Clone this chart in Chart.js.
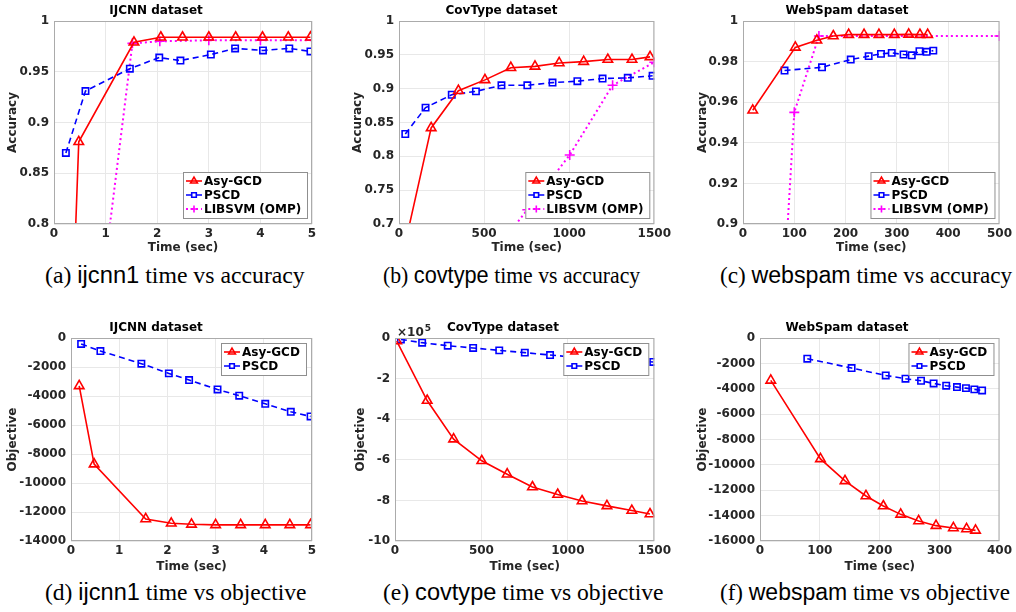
<!DOCTYPE html>
<html>
<head>
<meta charset="utf-8">
<script src="https://cdn.jsdelivr.net/npm/chart.js@4.4.1/dist/chart.umd.min.js"></script>
<style>
html, body { margin: 0; padding: 0; background: #fff; overflow: hidden; width: 1016px; height: 612px; }
canvas { position: absolute; }
.cap { position: absolute; white-space: nowrap; font-family: "Liberation Serif", "DejaVu Serif", serif; font-size: 23px; line-height: 24px; color: #000; transform-origin: 0 0; }
.cap .sf { font-family: "Liberation Sans", Arial, sans-serif; }
</style>
</head>
<body>
<canvas id="c1" width="326" height="257" style="left:0px;top:0px"></canvas>
<canvas id="c2" width="327" height="257" style="left:347px;top:0px"></canvas>
<canvas id="c3" width="323" height="257" style="left:692px;top:0px"></canvas>
<canvas id="c4" width="326" height="259" style="left:0px;top:317px"></canvas>
<canvas id="c5" width="324" height="259" style="left:350px;top:317px"></canvas>
<canvas id="c6" width="323" height="259" style="left:692px;top:317px"></canvas>

<div class="cap" data-l="45" data-r="305" style="top:263px">(a) <span class="sf">ijcnn1</span> time vs accuracy</div>
<div class="cap" data-l="383" data-r="640" style="top:263px">(b) <span class="sf">covtype</span> time vs accuracy</div>
<div class="cap" data-l="720" data-r="1012" style="top:263px">(c) <span class="sf">webspam</span> time vs accuracy</div>
<div class="cap" data-l="45" data-r="307" style="top:580px">(d) <span class="sf">ijcnn1</span> time vs objective</div>
<div class="cap" data-l="383" data-r="663" style="top:580px">(e) <span class="sf">covtype</span> time vs objective</div>
<div class="cap" data-l="720" data-r="1010" style="top:580px">(f) <span class="sf">webspam</span> time vs objective</div>

<script>
// [time, value] pairs

// IJCNN, accuracy
const ijcnnAccAsy = [[0.15, 0.42], [0.48, 0.881], [1.55, 0.979], [2.07, 0.984], [2.49, 0.984], [3.0, 0.984], [3.52, 0.984], [4.04, 0.984], [4.54, 0.984], [4.97, 0.984]];
const ijcnnAccPscd = [[0.23, 0.870], [0.61, 0.931], [1.47, 0.953], [2.04, 0.964], [2.45, 0.961], [3.04, 0.967], [3.51, 0.973], [4.05, 0.971], [4.56, 0.973], [4.97, 0.970]];
const ijcnnAccLib = [[0.5, 0.56], [1.52, 0.978], [2.05, 0.980], [3.0, 0.981], [4.0, 0.981], [5.0, 0.981]];

// CovType, accuracy
const covAccAsy = [[40, 0.675], [189, 0.842], [349, 0.897], [505, 0.913], [657, 0.931], [799, 0.933], [941, 0.938], [1085, 0.940], [1227, 0.943], [1369, 0.943], [1475, 0.947]];
const covAccPscd = [[37, 0.833], [156, 0.872], [310, 0.891], [452, 0.896], [602, 0.905], [754, 0.905], [902, 0.909], [1048, 0.911], [1196, 0.915], [1344, 0.916], [1490, 0.919]];
const covAccLib = [[500, 0.64], [754, 0.721], [1003, 0.802], [1255, 0.905], [1500, 0.939]];

// WebSpam, accuracy
const webAccAsy = [[19, 0.956], [102, 0.987], [144, 0.9905], [176, 0.9926], [206, 0.9933], [236, 0.9933], [265, 0.9933], [295, 0.9933], [323, 0.9934], [345, 0.9933], [360, 0.9933]];
const webAccPscd = [[81, 0.9756], [154, 0.9772], [210, 0.981], [245, 0.9827], [269, 0.9838], [290, 0.9843], [313, 0.9835], [329, 0.9831], [344, 0.9851], [358, 0.9848], [371, 0.9854]];
const webAccLib = [[80, 0.87], [100, 0.955], [148, 0.9926], [500, 0.9926]];

// IJCNN, objective
const ijcnnObjAsy = [[0.17, -3300], [0.48, -8700], [1.55, -12480], [2.08, -12780], [2.5, -12850], [3.0, -12890], [3.52, -12890], [4.03, -12890], [4.54, -12890], [4.97, -12890]];
const ijcnnObjPscd = [[0.21, -410], [0.61, -900], [1.46, -1770], [2.03, -2440], [2.45, -2900], [3.04, -3550], [3.49, -3980], [4.03, -4540], [4.56, -5090], [4.97, -5410]];

// CovType, objective (x10^5)
const covObjAsy = [[10, -0.15], [186, -3.08], [339, -4.98], [502, -6.05], [649, -6.71], [795, -7.34], [941, -7.71], [1082, -8.03], [1226, -8.27], [1370, -8.50], [1475, -8.67]];
const covObjPscd = [[34, -0.07], [157, -0.23], [305, -0.38], [452, -0.49], [603, -0.61], [751, -0.72], [897, -0.84], [1045, -0.95], [1195, -1.03], [1345, -1.10], [1494, -1.18]];

// WebSpam, objective
const webObjAsy = [[18, -3340], [101, -9530], [142, -11260], [177, -12450], [206, -13240], [235, -13900], [265, -14420], [294, -14790], [323, -14970], [345, -15050], [360, -15160]];
const webObjPscd = [[79, -1630], [153, -2370], [210, -2950], [243, -3210], [269, -3370], [290, -3580], [311, -3760], [329, -3870], [344, -3950], [358, -4050], [371, -4130]];

const seriesStyle = {
    asy: { label: 'Asy-GCD', color: '#ff0000', dash: [], width: 1.6, point: 'triangle', radius: 5.5 },
    pscd: { label: 'PSCD', color: '#0000ff', dash: [6, 4], width: 1.6, point: 'rect', radius: 4.5 },
    lib: { label: 'LIBSVM (OMP)', color: '#ff00ff', dash: [2, 3], width: 2, point: 'cross', radius: 5 }
};

const panels = [
    { id: 'c1', yW: 54, yPad: 6, xH: 33, padR: 14, title: 'IJCNN dataset', yTitle: 'Accuracy', x: [0, 5, 1], y: [0.8, 1, 0.05], legend: 'bottom',
      series: [['asy', ijcnnAccAsy], ['pscd', ijcnnAccPscd], ['lib', ijcnnAccLib]] },
    { id: 'c2', yW: 52, yPad: 4, xH: 33, padR: 18, title: 'CovType dataset', yTitle: 'Accuracy', x: [0, 1500, 500], y: [0.7, 1, 0.05], legend: 'bottom',
      series: [['asy', covAccAsy], ['pscd', covAccPscd], ['lib', covAccLib]] },
    { id: 'c3', yW: 51, yPad: 4, xH: 33, padR: 13, title: 'WebSpam dataset', yTitle: 'Accuracy', x: [0, 500, 100], y: [0.9, 1, 0.02], legend: 'bottom',
      series: [['asy', webAccAsy], ['pscd', webAccPscd], ['lib', webAccLib]] },
    { id: 'c4', yW: 71, yPad: 6, xH: 35, padR: 14, title: 'IJCNN dataset', yTitle: 'Objective', x: [0, 5, 1], y: [-14000, 0, 2000], legend: 'top',
      series: [['asy', ijcnnObjAsy], ['pscd', ijcnnObjPscd]] },
    { id: 'c5', yW: 45, yPad: 4, xH: 35, padR: 18, title: 'CovType dataset', yTitle: 'Objective', x: [0, 1500, 500], y: [-10, 0, 2], legend: 'top', exponent: '5',
      series: [['asy', covObjAsy], ['pscd', covObjPscd]] },
    { id: 'c6', yW: 68, yPad: 4, xH: 35, padR: 13, title: 'WebSpam dataset', yTitle: 'Objective', x: [0, 400, 100], y: [-16000, 0, 2000], legend: 'top',
      series: [['asy', webObjAsy], ['pscd', webObjPscd]] }
];

const FONT = 'DejaVu Sans';
const TXT = '#262626';

// same marker shapes as chart.js, for the legend samples
function drawMarker(ctx, kind, x, y, r) {
    ctx.beginPath();
    if (kind === 'triangle') {
        ctx.moveTo(x, y - r);
        ctx.lineTo(x + 0.866 * r, y + 0.5 * r);
        ctx.lineTo(x - 0.866 * r, y + 0.5 * r);
        ctx.closePath();
    } else if (kind === 'rect') {
        const s = Math.SQRT1_2 * r;
        ctx.rect(x - s, y - s, 2 * s, 2 * s);
    } else {
        ctx.moveTo(x - r, y); ctx.lineTo(x + r, y);
        ctx.moveTo(x, y - r); ctx.lineTo(x, y + r);
    }
    ctx.stroke();
}

const framePlugin = {
    id: 'frame',
    afterDatasetsDraw: function (chart, args, opts) {
        const a = chart.chartArea;
        const ctx = chart.ctx;
        ctx.save();
        ctx.strokeStyle = '#ababab';
        ctx.lineWidth = 1;
        ctx.setLineDash([]);
        ctx.strokeRect(a.left + 0.5, a.top + 0.5, a.right - a.left - 1, a.bottom - a.top - 1);

        // legend box
        ctx.font = 'bold 12px "' + FONT + '"';
        const items = chart.data.datasets;
        let tw = 0;
        items.forEach(function (d) { tw = Math.max(tw, ctx.measureText(d.label).width); });
        const bw = Math.round(21 + tw + 6);
        const bh = 4 + items.length * 14;
        let bx, by;
        if (opts.where === 'bottom') {
            bx = a.right - 5 - bw; by = a.bottom - 6 - bh;
        } else {
            bx = a.right - 6 - bw; by = a.top + 5;
        }
        ctx.fillStyle = '#fff';
        ctx.fillRect(bx, by, bw, bh);
        ctx.strokeStyle = '#8f8f8f';
        ctx.strokeRect(bx + 0.5, by + 0.5, bw, bh);
        items.forEach(function (d, i) {
            const cy = by + 9 + i * 14;
            ctx.strokeStyle = d.borderColor;
            ctx.lineWidth = d.borderWidth;
            ctx.setLineDash(d.borderDash);
            ctx.beginPath();
            ctx.moveTo(bx + 3, cy); ctx.lineTo(bx + 19, cy);
            ctx.stroke();
            ctx.setLineDash([]);
            ctx.lineWidth = d.pointBorderWidth;
            drawMarker(ctx, d.pointStyle, bx + 11, cy, d.pointRadius * 0.72);
            ctx.fillStyle = '#000';
            ctx.textBaseline = 'middle';
            ctx.textAlign = 'left';
            ctx.fillText(d.label, bx + 21, cy + 1);
        });

        if (opts.exponent) {
            ctx.fillStyle = TXT;
            ctx.textBaseline = 'alphabetic';
            ctx.font = 'bold 12px "' + FONT + '"';
            ctx.fillText('\u00d710', a.left + 2, a.top - 2);
            const w = ctx.measureText('\u00d710').width;
            ctx.font = 'bold 9px "' + FONT + '"';
            ctx.fillText(opts.exponent, a.left + 3 + w, a.top - 7);
        }
        ctx.restore();
    }
};

const fmt = function (v) { return String(parseFloat(Number(v).toFixed(4))); };

panels.forEach(function (p) {
    const datasets = p.series.map(function (s) {
        const st = seriesStyle[s[0]];
        return {
            label: st.label,
            data: s[1].map(function (q) { return { x: q[0], y: q[1] }; }),
            borderColor: st.color,
            borderWidth: st.width,
            borderDash: st.dash,
            pointStyle: st.point,
            pointRadius: st.radius,
            pointBorderWidth: 1.6,
            pointBorderColor: st.color,
            pointBackgroundColor: 'rgba(0,0,0,0)',
            fill: false,
            tension: 0
        };
    });

    new Chart(document.getElementById(p.id), {
        type: 'line',
        data: { datasets: datasets },
        plugins: [framePlugin],
        options: {
            responsive: false,
            animation: false,
            devicePixelRatio: 1,
            layout: { padding: { left: 0, right: p.padR, top: 0, bottom: 0 } },
            plugins: {
                legend: { display: false },
                tooltip: { enabled: false },
                title: {
                    display: true, text: p.title, color: '#000',
                    font: { family: FONT, weight: 'bold', size: 12, lineHeight: '14px' },
                    padding: { top: 4, bottom: 3 }
                },
                frame: { where: p.legend, exponent: p.exponent }
            },
            scales: {
                x: {
                    type: 'linear', min: p.x[0], max: p.x[1],
                    ticks: { stepSize: p.x[2], color: TXT, padding: 3, maxRotation: 0, autoSkip: false,
                             font: { family: FONT, weight: 'bold', size: 12 }, callback: fmt },
                    grid: { color: '#e8e8e8', drawTicks: false },
                    border: { display: false },
                    title: { display: true, text: 'Time (sec)', color: TXT, padding: { top: 0, bottom: 2 },
                             font: { family: FONT, weight: 'bold', size: 12, lineHeight: '14px' } },
                    afterFit: function (s) { s.height = p.xH; }
                },
                y: {
                    type: 'linear', min: p.y[0], max: p.y[1],
                    ticks: { stepSize: p.y[2], color: TXT, padding: 5, autoSkip: false,
                             font: { family: FONT, weight: 'bold', size: 12 }, callback: fmt },
                    grid: { color: '#e8e8e8', drawTicks: false },
                    border: { display: false },
                    title: { display: true, text: p.yTitle, color: TXT, padding: { top: p.yPad, bottom: 0 },
                             font: { family: FONT, weight: 'bold', size: 12, lineHeight: '14px' } },
                    afterFit: function (s) { s.width = p.yW; }
                }
            }
        }
    });
});

// stretch captions to the width they take in the figure
document.querySelectorAll('.cap').forEach(function (el) {
    const l = +el.dataset.l, r = +el.dataset.r;
    el.style.left = l + 'px';
    el.style.transform = 'scaleX(' + ((r - l) / el.offsetWidth).toFixed(3) + ')';
});
</script>
</body>
</html>
